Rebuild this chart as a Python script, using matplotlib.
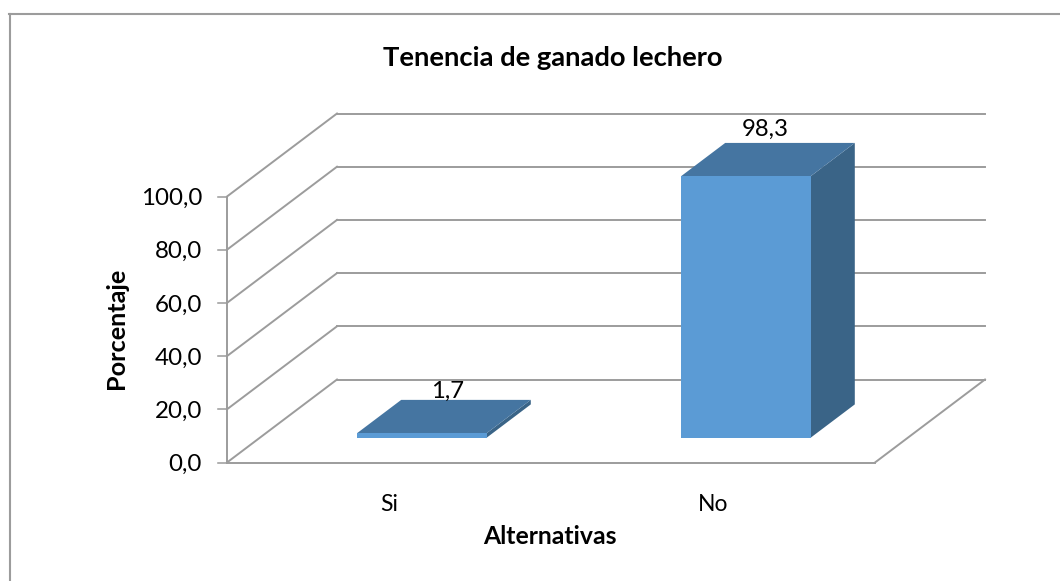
#!/usr/bin/env python
import matplotlib
matplotlib.use('Agg')
import matplotlib.pyplot as plt
from matplotlib.patches import Polygon
from matplotlib.lines import Line2D

categories = ['Si', 'No']
values = [1.7, 98.3]
value_labels = ['1,7', '98,3']
yticks = [0, 20, 40, 60, 80, 100]
ytick_labels = ['0,0', '20,0', '40,0', '60,0', '80,0', '100,0']

W, H = 1060, 581
# scale of the front plane, in pixels
PX_CAT = 324.0
PX_VAL = 2.66
X0 = 389.0
Y0 = 462.5
# one unit of depth on the picture
DX = 110.0 / PX_CAT
DY = 83.0 / PX_VAL

GRID = '#9c9c9c'
FRONT = '#5b9bd5'
TOP = '#4575a1'
SIDE = '#3a6487'
LW = 1.4
plt.rcParams['font.family'] = ['Lato', 'DejaVu Sans']

fig = plt.figure(figsize=(W / 100, H / 100), dpi=100, facecolor='white')
ax = fig.add_axes([0, 0, 1, 1])
ax.set_xlim(-X0 / PX_CAT, (W - X0) / PX_CAT)
ax.set_ylim(-(H - Y0) / PX_VAL, Y0 / PX_VAL)
ax.axis('off')

# chart frame (cropped on the right and bottom)
fig.add_artist(Line2D([9.5 / W, 9.5 / W], [0, 1 - 14 / H], color='#9c9c9c', lw=1.5))
fig.add_artist(Line2D([9 / W, 1], [1 - 14 / H, 1 - 14 / H], color='#9c9c9c', lw=1.5))

left, right = -0.5, 1.5
for t in yticks:
    ax.plot([left, left + DX], [t, t + DY], color=GRID, lw=LW, zorder=1)
    ax.plot([left + DX, right + DX], [t + DY, t + DY], color=GRID, lw=LW, zorder=1)
    ax.plot([left - 9 / PX_CAT, left], [t, t], color=GRID, lw=LW * 0.8, zorder=1)
    ax.text(left - 25 / PX_CAT, t, ytick_labels[yticks.index(t)], ha='right', va='center_baseline',
            fontsize=17.4, color='black')
ax.plot([left, left], [0, yticks[-1]], color=GRID, lw=LW, zorder=1)
ax.plot([left, right], [0, 0], color=GRID, lw=LW, zorder=1)
ax.plot([right, right + DX], [0, DY], color=GRID, lw=LW, zorder=1)

bar_w = 0.4
z0, z1 = 0.3, 0.7
label_dx = [0.18, 0.16]
label_dy = [0.6, 2.6]
for i in range(len(values)):
    v = values[i]
    x0 = i - bar_w / 2 + z0 * DX
    x1 = i + bar_w / 2 + z0 * DX
    y0 = z0 * DY
    y1 = y0 + v
    ddx = (z1 - z0) * DX
    ddy = (z1 - z0) * DY
    ax.add_patch(Polygon([(x1, y0), (x1 + ddx, y0 + ddy), (x1 + ddx, y1 + ddy), (x1, y1)],
                         fc=SIDE, ec='none', zorder=2))
    ax.add_patch(Polygon([(x0, y1), (x1, y1), (x1 + ddx, y1 + ddy), (x0 + ddx, y1 + ddy)],
                         fc=TOP, ec='none', zorder=3))
    ax.add_patch(Polygon([(x0, y0), (x1, y0), (x1, y1), (x0, y1)],
                         fc=FRONT, ec='none', zorder=4))
    ax.text(i + label_dx[i], y1 + ddy + label_dy[i], value_labels[i], ha='center', va='baseline',
            fontsize=17.2, color='black', zorder=5)
    ax.text(i, -15, categories[i], ha='center', va='center_baseline', fontsize=16.5, color='black')

fig.text(553 / W, 1 - 58 / H, 'Tenencia de ganado lechero', ha='center', va='center',
         fontsize=19.7, fontweight='bold')
fig.text(550 / W, 1 - 537 / H, 'Alternativas', ha='center', va='center', fontsize=17.8, fontweight='bold')
fig.text(117 / W, 1 - 328 / H, 'Porcentaje', ha='center', va='center', rotation=90,
         fontsize=18.2, fontweight='bold')

fig.savefig('out.png', dpi=100)
